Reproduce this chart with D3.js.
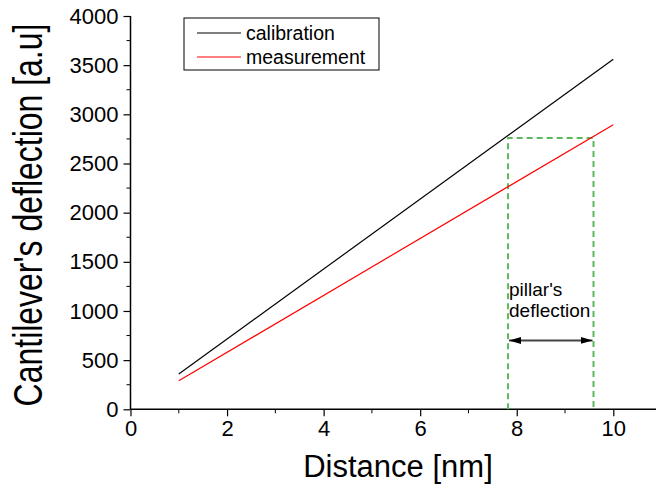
<!DOCTYPE html>
<html>
<head>
<meta charset="utf-8">
<script src="https://cdn.jsdelivr.net/npm/d3@7"></script>
<style>
  body { margin: 0; background: #fff; }
  text { font-family: Arial, "Liberation Sans", sans-serif; fill: #000; }
</style>
</head>
<body>
<div id="chart"></div>
<script>
// Data
const calibration = [[1, 360], [10, 3560]]
const measurement = [[1, 290], [10, 2895]]
const xTicks = [0, 2, 4, 6, 8, 10]
const yTicks = [0, 500, 1000, 1500, 2000, 2500, 3000, 3500, 4000]
const xMinor = [1, 3, 5, 7, 9]
const yMinor = [250, 750, 1250, 1750, 2250, 2750, 3250, 3750]
// pillar's deflection box: x from/to and top level
const pillarX = [7.82, 9.59]
const pillarTop = 2760
const arrowLevel = 700
const seriesNames = ['calibration', 'measurement']
const seriesColors = ['#000000', '#ff0000']

const size = { width: 656, height: 495 }
const margin = { left: 130.5, top: 16, bottom: 85.7 }
const unit = 48.28
const height = size.height - margin.top - margin.bottom

const svg = d3.select('#chart').append('svg')
  .attr('width', size.width)
  .attr('height', size.height)

const g = svg.append('g')
  .attr('transform', `translate(${margin.left}, ${margin.top})`)

// x axis runs on past 10 to the right edge
const x = d3.scaleLinear().domain([0, 11]).range([0, unit * 11])
const y = d3.scaleLinear().domain([0, 4000]).range([height, 0])

// Axes (left + bottom only, ticks outside)
const xAxis = g.append('g')
  .attr('transform', `translate(0, ${height})`)
  .call(d3.axisBottom(x).tickValues(xTicks).tickSize(7).tickPadding(4).tickFormat(d3.format('d')))
xAxis.append('g').selectAll('line').data(xMinor).enter().append('line')
  .attr('x1', d => x(d)).attr('x2', d => x(d))
  .attr('y1', 0).attr('y2', 4).attr('stroke', '#000')

const yAxis = g.append('g')
  .call(d3.axisLeft(y).tickValues(yTicks).tickSize(7).tickPadding(5).tickFormat(d3.format('d')))
yAxis.append('g').selectAll('line').data(yMinor).enter().append('line')
  .attr('y1', d => y(d)).attr('y2', d => y(d))
  .attr('x1', 0).attr('x2', -4).attr('stroke', '#000')

svg.selectAll('.domain').attr('stroke', '#000').attr('stroke-width', 1.5)
svg.selectAll('.tick line').attr('stroke', '#000').attr('stroke-width', 1.2)
svg.selectAll('.tick text').attr('font-size', 22).attr('font-family', 'Arial, "Liberation Sans", sans-serif')
yAxis.selectAll('.domain').attr('d', `M0,${height}V0`)
xAxis.selectAll('.domain').attr('d', `M0,0H${x(11)}`)

// Dashed pillar box
g.append('path')
  .attr('d', `M${x(pillarX[0])},${y(0)}V${y(pillarTop)}H${x(pillarX[1])}V${y(0)}`)
  .attr('fill', 'none')
  .attr('stroke', '#5cb85c')
  .attr('stroke-width', 2)
  .attr('stroke-dasharray', '6,4')

// Series lines
const line = d3.line().x(d => x(d[0])).y(d => y(d[1]))
;[calibration, measurement].forEach((data, i) => {
  g.append('path')
    .datum(data)
    .attr('fill', 'none')
    .attr('stroke', seriesColors[i])
    .attr('stroke-width', 1.2)
    .attr('d', line)
})

// Double arrow
const defs = svg.append('defs')
defs.append('marker')
  .attr('id', 'head')
  .attr('viewBox', '0 0 12 10')
  .attr('refX', 12).attr('refY', 5)
  .attr('markerWidth', 12).attr('markerHeight', 10)
  .attr('markerUnits', 'userSpaceOnUse')
  .attr('orient', 'auto-start-reverse')
  .append('path')
  .attr('d', 'M0,1.5L12,5L0,8.5Z')
  .attr('fill', '#000')

g.append('line')
  .attr('x1', x(pillarX[0]) + 1).attr('x2', x(pillarX[1]) - 1)
  .attr('y1', y(arrowLevel)).attr('y2', y(arrowLevel))
  .attr('stroke', '#444')
  .attr('stroke-width', 2)
  .attr('marker-start', 'url(#head)')
  .attr('marker-end', 'url(#head)')

const note = g.append('text')
  .attr('font-size', 19)
note.append('tspan').attr('x', x(pillarX[0]) + 1).attr('y', 280).text("pillar's")
note.append('tspan').attr('x', x(pillarX[0]) + 1).attr('y', 301).text('deflection')

// Legend
const legend = svg.append('g').attr('transform', 'translate(184, 18)')
legend.append('rect')
  .attr('width', 195).attr('height', 52)
  .attr('fill', '#fff').attr('stroke', '#000').attr('stroke-width', 1)
seriesNames.forEach((name, i) => {
  legend.append('line')
    .attr('x1', 13).attr('x2', 57)
    .attr('y1', 15 + i * 24).attr('y2', 15 + i * 24)
    .attr('stroke', seriesColors[i]).attr('stroke-width', 1.2)
  legend.append('text')
    .attr('x', 62).attr('y', 15 + i * 24 + 7)
    .attr('font-size', 19.5)
    .text(name)
})

// Axis titles
svg.append('text')
  .attr('x', 398).attr('y', 477)
  .attr('text-anchor', 'middle')
  .attr('font-size', 31)
  .text('Distance [nm]')

// y title glyphs are taller than they are long in the original, so squeeze along the run
svg.append('text')
  .attr('transform', 'translate(42, 215) rotate(-90) scale(0.78, 1)')
  .attr('text-anchor', 'middle')
  .attr('font-size', 41)
  .text("Cantilever's deflection [a.u]")
</script>
</body>
</html>
